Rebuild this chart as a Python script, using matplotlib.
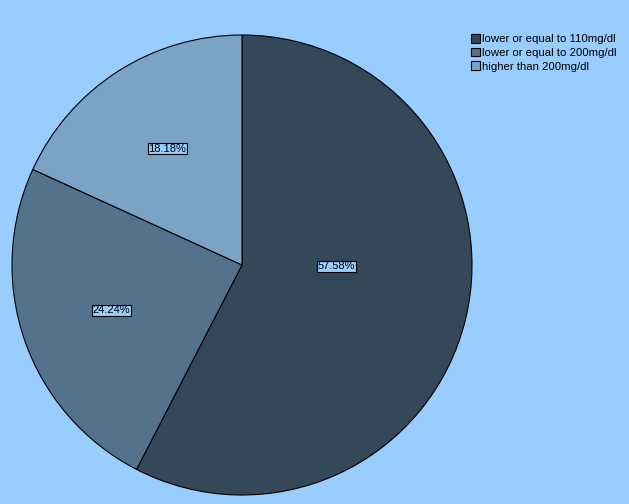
import matplotlib.pyplot as plt

labels = ['lower or equal to 110mg/dl', 'lower or equal to 200mg/dl', 'higher than 200mg/dl']
percents = [57.58, 24.24, 18.18]
colors = ['#354859', '#53738c', '#7ba3c6']
bg = '#99ccff'

plt.rcParams['font.family'] = ['Liberation Sans', 'DejaVu Sans']

fig = plt.figure(figsize=(6.29, 5.04), dpi=100, facecolor=bg)
ax = fig.add_axes([12 / 629, 9 / 504, 460 / 629, 460 / 504])
ax.set_facecolor(bg)

wedges, texts, autotexts = ax.pie(
    percents, colors=colors, startangle=90, counterclock=False,
    autopct='%.2f%%', pctdistance=0.6,
    wedgeprops=dict(edgecolor='black', linewidth=0.8),
    textprops=dict(fontsize=8),
)
for t in autotexts:
    t.set_bbox(dict(facecolor=bg, edgecolor='black', boxstyle='square,pad=0.05', linewidth=0.8))
    t.set_color('black')
# SPSS puts the big slice label nearer the centre, on the horizontal
autotexts[0].set_position((0.41, -0.005))
ax.set_xlim(-1, 1)
ax.set_ylim(-1, 1)
ax.set_aspect('equal')

fig.legend(wedges, labels, loc='upper left', bbox_to_anchor=(471 / 629, 1 - 34 / 504),
           frameon=False, fontsize=8.2, handlelength=0.8, handleheight=0.8,
           handletextpad=0.2, labelspacing=0.3, borderpad=0, borderaxespad=0)
for h in fig.legends[0].legend_handles:
    h.set_edgecolor('black')
    h.set_linewidth(0.8)

fig.savefig('out.png', dpi=100, facecolor=bg)
